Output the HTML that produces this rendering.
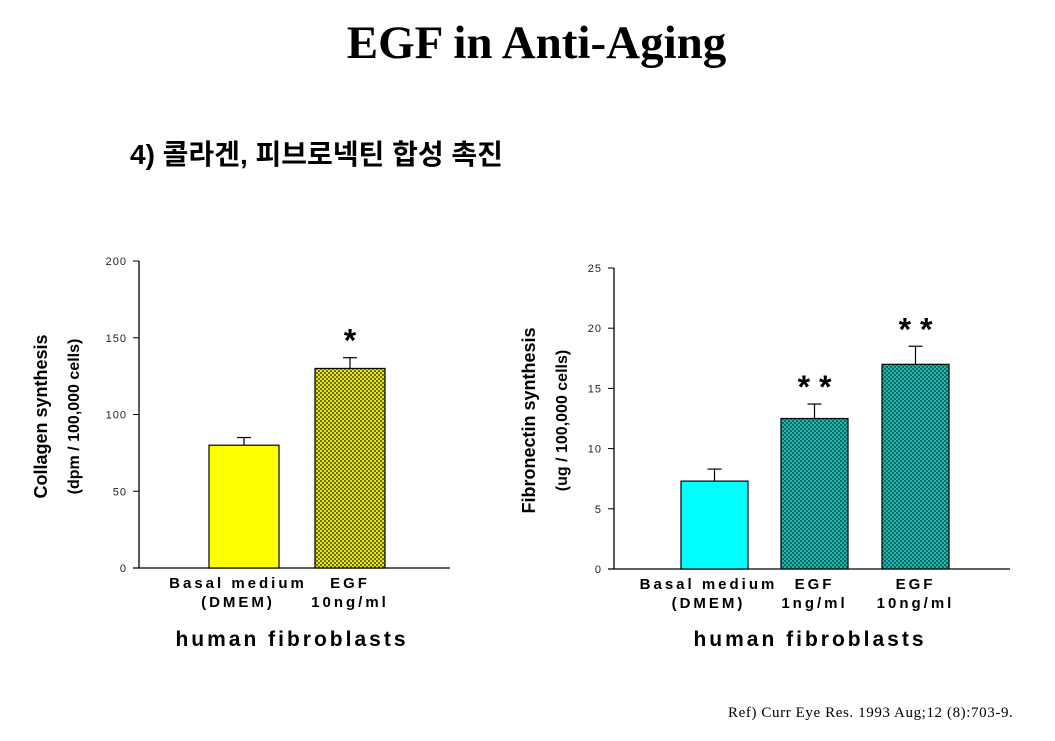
<!DOCTYPE html>
<html><head><meta charset="utf-8"><style>
body{margin:0;width:1055px;height:741px;background:#fff;overflow:hidden;position:relative;font-family:"Liberation Sans",sans-serif}
.t{position:absolute}
</style></head><body>
<div class="t" style="left:0;width:1073px;top:16px;text-align:center;font:bold 47px 'Liberation Serif',serif">EGF in Anti-Aging</div>
<div class="t" style="left:130px;top:133px;font:bold 28px 'Liberation Sans','Noto Sans CJK KR',sans-serif">4) 콜라겐, 피브로넥틴 합성 촉진</div>
<div class="t" style="left:728px;top:705px;font:15px 'Liberation Serif','Noto Serif CJK SC',serif;letter-spacing:0.6px">Ref) Curr Eye Res. 1993 Aug;12 (8):703-9.</div>
<svg id="svg" width="1055" height="741" style="position:absolute;left:0;top:0" xmlns="http://www.w3.org/2000/svg">
<defs>
<pattern id="py" width="4" height="4" patternUnits="userSpaceOnUse"><rect width="4" height="4" fill="#e8e800"/><rect x="0" y="0" width="2" height="2" fill="#6b6b10"/><rect x="2" y="2" width="2" height="2" fill="#6b6b10"/></pattern>
<pattern id="pc" width="4" height="4" patternUnits="userSpaceOnUse"><rect width="4" height="4" fill="#1ab8b0"/><rect x="0" y="0" width="2" height="2" fill="#0f6a66"/><rect x="2" y="2" width="2" height="2" fill="#0f6a66"/></pattern>
</defs>
</svg>
<script>
const c1Values=[80,130];
const c1Errors=[5,7];
const c1Ticks=[0,50,100,150,200];
const c1Stars=["","*"];
const c2Values=[7.3,12.5,17];
const c2Errors=[1,1.2,1.5];
const c2Ticks=[0,5,10,15,20,25];
const c2Stars=["","* *","* *"];
const NS="http://www.w3.org/2000/svg";
const svg=document.getElementById('svg');
function mk(tag,attrs,name,txt){const e=document.createElementNS(NS,tag);for(const k in attrs)e.setAttribute(k,attrs[k]);


if(txt!==undefined)e.textContent=txt;svg.appendChild(e);return e;}
function chart(o){
 const y=v=>o.y0-(v/o.max)*(o.y0-o.yTop);
 mk('line',{x1:o.ax,y1:o.yTop,x2:o.ax,y2:o.y0,stroke:'#000','stroke-width':1.3},'y-axis');
 mk('line',{x1:o.ax-6,y1:o.y0,x2:o.xEnd,y2:o.y0,stroke:'#000','stroke-width':1.3},'x-axis');
 o.ticks.forEach(t=>{mk('line',{x1:o.ax-6,y1:y(t),x2:o.ax,y2:y(t),stroke:'#000'},'y-tick');
  mk('text',{x:o.ax-12,y:y(t)+4,'text-anchor':'end','font-size':11,'letter-spacing':1,fill:'#222'},'y-tick-label',String(t));});
 o.vals.forEach((v,i)=>{const x=o.bx[i];
  mk('rect',{x:x,y:y(v),width:o.bw,height:o.y0-y(v),fill:o.fills[i],stroke:'#000','stroke-width':1.2},'bar-'+i);
  const cx=x+o.bw/2,ye=y(v+o.errs[i]);
  mk('line',{x1:cx,y1:y(v),x2:cx,y2:ye,stroke:'#000','stroke-width':1.2},'error-bar');
  mk('line',{x1:cx-7,y1:ye,x2:cx+7,y2:ye,stroke:'#000','stroke-width':1.2},'error-cap');
  if(o.stars[i])mk('text',{x:cx,y:ye-6,'text-anchor':'middle','font-size':32,'font-weight':'bold'},'significance-star',o.stars[i]);
  o.labels[i].forEach((l,j)=>mk('text',{x:cx+(o.loff?o.loff[i]:0),y:o.y0+20+j*19,'text-anchor':'middle','font-size':15,'font-weight':'bold','letter-spacing':3},'x-category-label',l));
 });
 const cy=(o.y0+o.yTop)/2;
 mk('text',{x:0,y:0,transform:`translate(${o.tx1},${cy+2}) rotate(-90)`,'text-anchor':'middle','font-size':18,'font-weight':'bold'},'y-axis-title',o.title1);
 mk('text',{x:0,y:0,transform:`translate(${o.tx1+32},${cy+2}) rotate(-90)`,'text-anchor':'middle','font-size':16,'font-weight':'bold'},'y-axis-unit',o.title2);
 mk('text',{x:o.xt,y:646,'text-anchor':'middle','font-size':21,'font-weight':'bold','letter-spacing':3},'x-axis-title','human fibroblasts');
}
chart({ax:139,y0:568,yTop:261,max:200,xEnd:450,ticks:c1Ticks,vals:c1Values,errs:c1Errors,stars:c1Stars,bx:[209,315],bw:70,
 fills:['#ffff00','url(#py)'],labels:[['Basal medium','(DMEM)'],['EGF','10ng/ml']],loff:[-6,0],title1:'Collagen synthesis',title2:'(dpm / 100,000 cells)',tx1:47,xt:292});
chart({ax:614,y0:569,yTop:268,max:25,xEnd:1010,ticks:c2Ticks,vals:c2Values,errs:c2Errors,stars:c2Stars,bx:[681,781,882],bw:67,
 fills:['#00ffff','url(#pc)','url(#pc)'],labels:[['Basal medium','(DMEM)'],['EGF','1ng/ml'],['EGF','10ng/ml']],loff:[-6,0,0],title1:'Fibronectin synthesis',title2:'(ug / 100,000 cells)',tx1:535,xt:810});
</script>
</body></html>
